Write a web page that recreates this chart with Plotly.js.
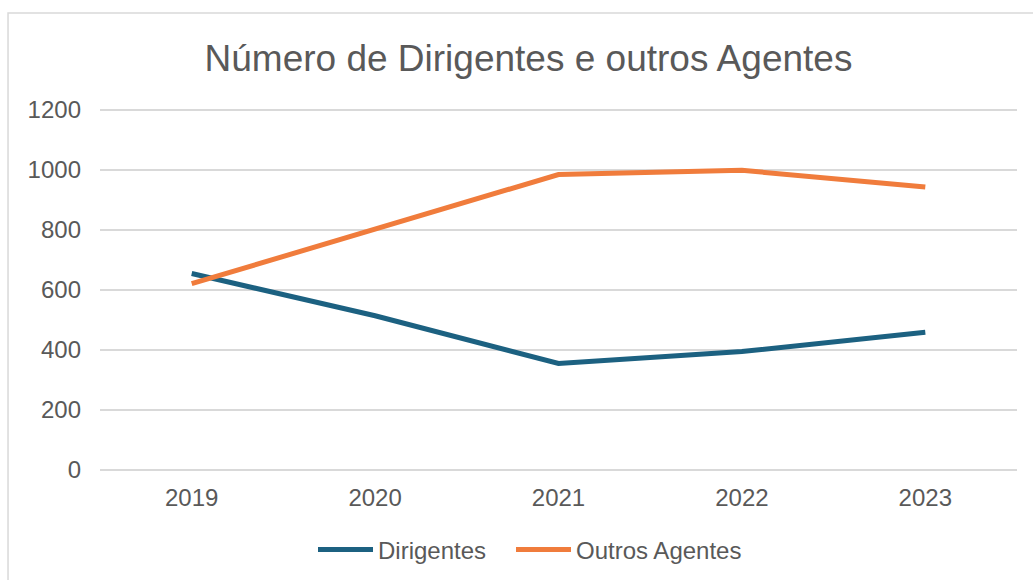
<!DOCTYPE html>
<html>
<head>
<meta charset="utf-8">
<script src="https://cdn.plot.ly/plotly-3.0.1.min.js"></script>
<style>
  html, body { margin: 0; padding: 0; background: #ffffff; }
  #chart { width: 1033px; height: 580px; }
</style>
</head>
<body>
<div id="chart"></div>
<script>
const years = ['2019', '2020', '2021', '2022', '2023'];
const dirigentes = [655, 514, 355, 395, 459];
const outrosAgentes = [621, 801, 985, 999, 943];
const yTicks = [0, 200, 400, 600, 800, 1000, 1200];

const textColor = '#595959';
const fontFamily = '"Liberation Sans", Arial, sans-serif';

const traces = [
  {
    x: years, y: dirigentes, name: 'Dirigentes', type: 'scatter', mode: 'lines',
    line: { color: '#1c6181', width: 5 }, legend: 'legend'
  },
  {
    x: years, y: outrosAgentes, name: 'Outros Agentes', type: 'scatter', mode: 'lines',
    line: { color: '#f07c3c', width: 5 }, legend: 'legend2'
  }
];

const legendBase = {
  orientation: 'h', xref: 'container', yref: 'container',
  xanchor: 'left', y: 0.0517, yanchor: 'middle',
  itemwidth: 55,
  font: { size: 24, color: textColor }, bgcolor: 'rgba(0,0,0,0)'
};

const layout = {
  width: 1033, height: 580,
  paper_bgcolor: '#ffffff', plot_bgcolor: '#ffffff',
  margin: { l: 100, r: 16, t: 107, b: 106.5, autoexpand: false },
  font: { family: fontFamily, color: textColor, size: 24 },
  title: {
    text: 'Número de Dirigentes e outros Agentes',
    font: { family: fontFamily, size: 37, color: textColor },
    xref: 'container', x: 0.5116, xanchor: 'center',
    yref: 'container', y: 0.9, yanchor: 'middle'
  },
  xaxis: {
    type: 'category', range: [-0.5, 4.5],
    showgrid: false, zeroline: false, showline: false, ticks: '',
    tickfont: { size: 24, color: textColor },
    ticklabelstandoff: 8, fixedrange: true
  },
  yaxis: {
    range: [-10, 1210], tickvals: yTicks,
    showgrid: true, gridcolor: '#d9d9d9', gridwidth: 1.5,
    zeroline: false, showline: false, ticks: '',
    tickfont: { size: 24, color: textColor },
    ticklabelstandoff: 18, fixedrange: true
  },
  showlegend: true,
  legend: Object.assign({}, legendBase, { x: 313 / 1033 }),
  legend2: Object.assign({}, legendBase, { x: 511 / 1033 }),
  shapes: [
    {
      type: 'rect', xref: 'paper', yref: 'paper',
      x0: -0.1003, x1: 1.03, y0: -0.34, y1: 1.2565,
      line: { color: '#d9d9d9', width: 1.5 }, fillcolor: 'rgba(0,0,0,0)', layer: 'below'
    }
  ],
  hovermode: false
};

Plotly.newPlot('chart', traces, layout, { displayModeBar: false, staticPlot: true });
</script>
</body>
</html>
